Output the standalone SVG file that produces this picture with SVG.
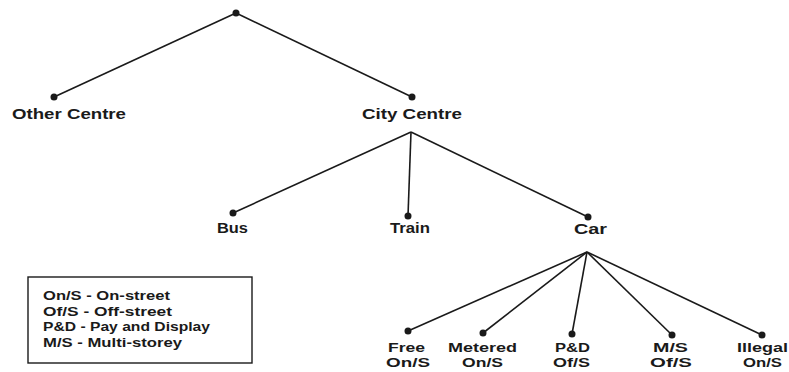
<svg xmlns="http://www.w3.org/2000/svg" width="789" height="372" viewBox="0 0 789 372">
<style>
.e{stroke:#1a1a1a;stroke-width:1.6;fill:none}
.d{fill:#1a1a1a}
.t{font-family:"Liberation Sans",Arial,sans-serif;font-weight:bold;fill:#1a1a1a;font-size:15px}
.s{font-family:"Liberation Sans",Arial,sans-serif;font-weight:bold;fill:#1a1a1a;font-size:13.5px}
.l{font-family:"Liberation Sans",Arial,sans-serif;font-weight:bold;fill:#1a1a1a;font-size:12.5px}
</style>
<rect width="789" height="372" fill="#fff"/>
<g id="connectors">
<line class="e" x1="236" y1="13" x2="54" y2="97"/>
<line class="e" x1="236" y1="13" x2="412" y2="97"/>
<line class="e" x1="411" y1="132" x2="233" y2="213"/>
<line class="e" x1="411" y1="132" x2="408" y2="216"/>
<line class="e" x1="411" y1="132" x2="588" y2="217"/>
<line class="e" x1="587" y1="252" x2="408" y2="331"/>
<line class="e" x1="587" y1="252" x2="483" y2="333"/>
<line class="e" x1="587" y1="252" x2="572" y2="334"/>
<line class="e" x1="587" y1="252" x2="672" y2="335"/>
<line class="e" x1="587" y1="252" x2="762" y2="335"/>
</g>
<g id="root"><circle class="d" cx="236" cy="13" r="3.5"/></g>
<g id="other-centre"><circle class="d" cx="54" cy="97" r="3.5"/><text class="t" x="12" y="119" textLength="114" lengthAdjust="spacingAndGlyphs">Other Centre</text></g>
<g id="city-centre"><circle class="d" cx="412" cy="97" r="3.5"/><text class="t" x="362" y="119" textLength="100" lengthAdjust="spacingAndGlyphs">City Centre</text></g>
<g id="bus"><circle class="d" cx="233" cy="213" r="3.5"/><text class="t" x="217" y="233" textLength="31" lengthAdjust="spacingAndGlyphs">Bus</text></g>
<g id="train"><circle class="d" cx="408" cy="216" r="3.5"/><text class="t" x="390" y="233" textLength="40" lengthAdjust="spacingAndGlyphs">Train</text></g>
<g id="car"><circle class="d" cx="588" cy="217" r="3.5"/><text class="t" x="574" y="234" textLength="33" lengthAdjust="spacingAndGlyphs">Car</text></g>
<g id="free"><circle class="d" cx="408" cy="331" r="3.5"/><text class="s" x="388" y="352" textLength="37" lengthAdjust="spacingAndGlyphs">Free</text><text class="s" x="386" y="367" textLength="44" lengthAdjust="spacingAndGlyphs">On/S</text></g>
<g id="metered"><circle class="d" cx="483" cy="333" r="3.5"/><text class="s" x="448" y="352" textLength="69" lengthAdjust="spacingAndGlyphs">Metered</text><text class="s" x="462" y="367" textLength="41" lengthAdjust="spacingAndGlyphs">On/S</text></g>
<g id="pd"><circle class="d" cx="572" cy="334" r="3.5"/><text class="s" x="555" y="352" textLength="35" lengthAdjust="spacingAndGlyphs">P&amp;D</text><text class="s" x="553" y="367" textLength="37" lengthAdjust="spacingAndGlyphs">Of/S</text></g>
<g id="ms"><circle class="d" cx="672" cy="335" r="3.5"/><text class="s" x="653" y="352" textLength="35" lengthAdjust="spacingAndGlyphs">M/S</text><text class="s" x="650" y="367" textLength="42" lengthAdjust="spacingAndGlyphs">Of/S</text></g>
<g id="illegal"><circle class="d" cx="762" cy="335" r="3.5"/><text class="s" x="737" y="352" textLength="51" lengthAdjust="spacingAndGlyphs">Illegal</text><text class="s" x="743" y="367" textLength="39" lengthAdjust="spacingAndGlyphs">On/S</text></g>
<g id="legend">
<rect x="28" y="277" width="224" height="86" fill="none" stroke="#1a1a1a" stroke-width="1.4"/>
<text class="l" x="43" y="300" textLength="127" lengthAdjust="spacingAndGlyphs">On/S - On-street</text>
<text class="l" x="43" y="316" textLength="129" lengthAdjust="spacingAndGlyphs">Of/S - Off-street</text>
<text class="l" x="43" y="331" textLength="167" lengthAdjust="spacingAndGlyphs">P&amp;D - Pay and Display</text>
<text class="l" x="43" y="347" textLength="139" lengthAdjust="spacingAndGlyphs">M/S - Multi-storey</text>
</g>
</svg>
